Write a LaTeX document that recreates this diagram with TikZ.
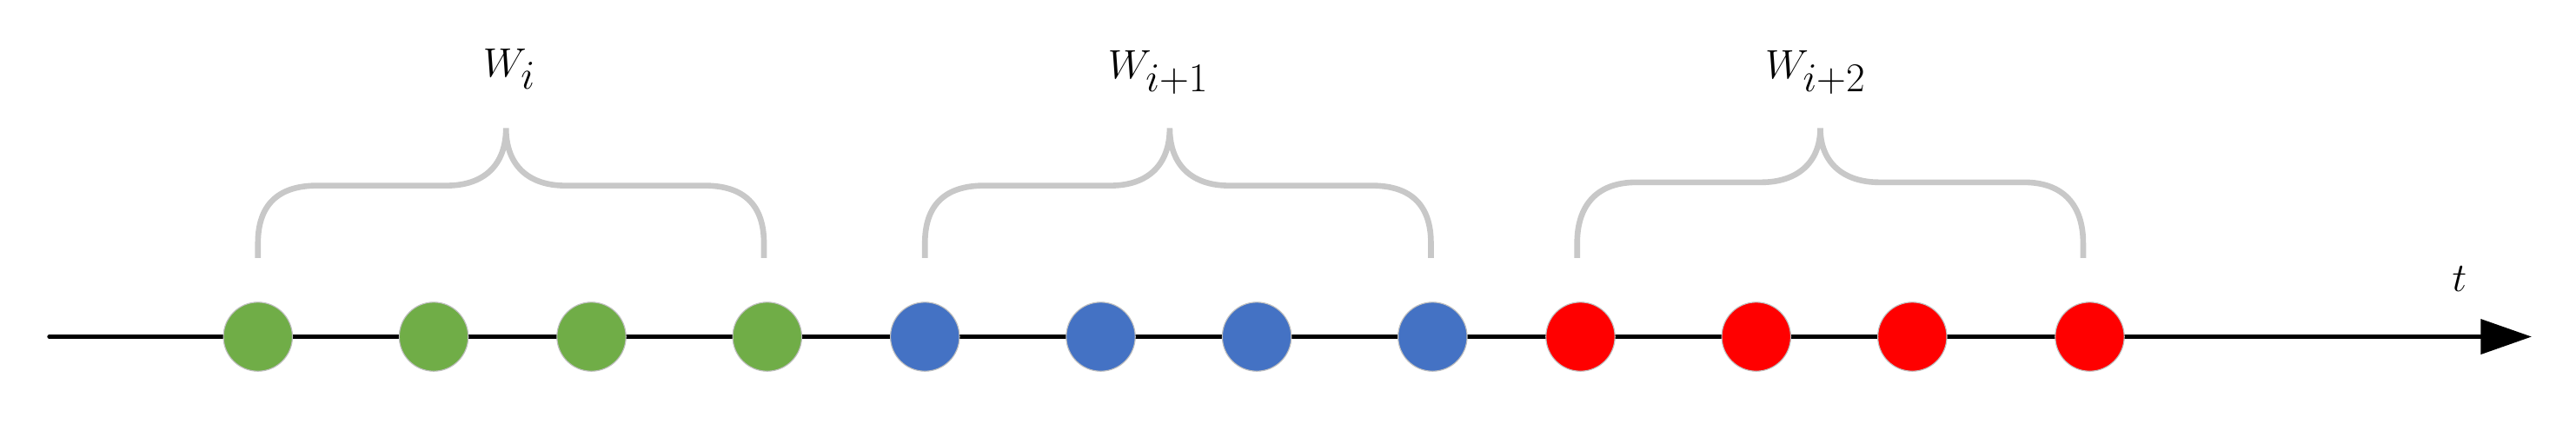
\documentclass[tikz,border=0pt]{standalone}
\usepackage{fontspec}
\setmainfont{Liberation Serif}
\usetikzlibrary{arrows.meta}
\begin{document}
\begin{tikzpicture}[x=1pt,y=-1pt,
  dot/.style={circle,minimum size=42pt,inner sep=0pt,draw=black!25,line width=0.6pt},
  g/.style={dot,fill={rgb,255:red,112;green,173;blue,71}},
  b/.style={dot,fill={rgb,255:red,68;green,114;blue,196}},
  r/.style={dot,fill={rgb,255:red,255;green,0;blue,0}},
  brace/.style={draw={rgb,255:red,200;green,200;blue,200},line width=3.5pt},
  lab/.style={font=\fontsize{34}{40}\selectfont\itshape,inner sep=0pt}]
\useasboundingbox (0,0) rectangle (1568,258);
\coordinate (s) at (30,205);
\coordinate (e) at (1541,205);
\draw[line width=2.5pt,line cap=round,-{Triangle[length=31pt,width=21pt]}] (s) -- (e);
\foreach \n/\x/\st in {g1/157/g,g2/264/g,g3/360/g,g4/467/g,b1/563/b,b2/670/b,b3/765/b,b4/872/b,r1/962/r,r2/1069/r,r3/1164/r,r4/1272/r}
  \node[\st] (\n) at (\x,205) {};
\foreach \l/\m/\r/\h in {157/308/465/113,563/712/871/113,960/1108/1268/111}
  \draw[brace] (\l,157) -- (\l,148) .. controls (\l,125) and (\l+12,\h) .. (\l+36,\h)
    -- (\m-36,\h) .. controls (\m-14,\h) and (\m,\h-12) .. (\m,78)
    .. controls (\m,\h-12) and (\m+14,\h) .. (\m+36,\h)
    -- (\r-36,\h) .. controls (\r-12,\h) and (\r,125) .. (\r,148) -- (\r,157);
\node[lab] (w1) at (310,42) {$W_{i}$};
\node[lab] (w2) at (705,44) {$W_{i+1}$};
\node[lab] (w3) at (1105,44) {$W_{i+2}$};
\node[lab,font=\fontsize{40}{44}\selectfont\itshape] (t) at (1497,170) {$t$};
\end{tikzpicture}
\end{document}
